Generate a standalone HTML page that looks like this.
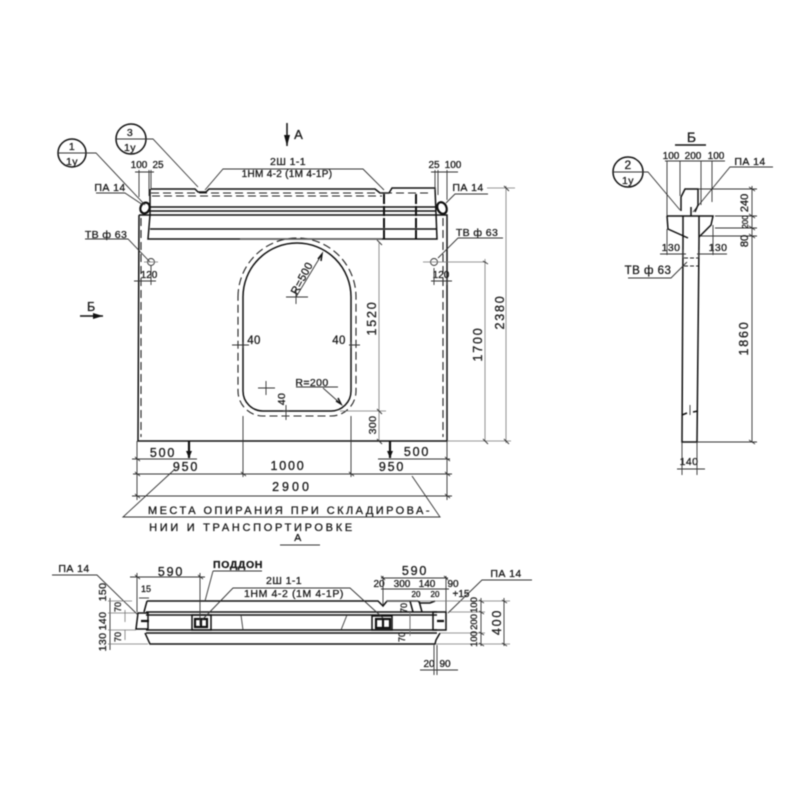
<!DOCTYPE html>
<html><head><meta charset="utf-8"><style>
html,body{margin:0;padding:0;background:#fff;width:800px;height:800px;overflow:hidden}
svg{display:block;filter:blur(.4px)}
text{font-family:"Liberation Sans",sans-serif;font-size:11.5px;fill:#1a1a1a;stroke:#1a1a1a;stroke-width:.3;letter-spacing:1px;text-anchor:middle}
.s{font-size:10.5px;letter-spacing:.4px}
.t{font-size:9px;letter-spacing:0}
.m{font-size:12.5px;letter-spacing:1.8px}
.k{fill:none;stroke:#111;stroke-width:1.5}
.h{fill:none;stroke:#111;stroke-width:2.2}
.n{fill:none;stroke:#333;stroke-width:.9}
.l{fill:none;stroke:#777;stroke-width:.8}
.d{fill:none;stroke:#222;stroke-width:1.1;stroke-dasharray:8 4}
.v{fill:none;stroke:#111;stroke-width:2;stroke-dasharray:10 2}
</style></head><body>
<svg width="800" height="800" viewBox="0 0 800 800" xmlns="http://www.w3.org/2000/svg">
<!-- main elevation -->
<path class="k" d="M139 215H150M139 215L138 441H447L447 215H437"/>
<path class="d" d="M141 218V437M443 218V437"/>
<path class="k" d="M151 189H195L198 192H206L209 189H375L380 193H389L392 188H435L437 239H148L150 215V189"/>
<path class="k" d="M150 207H435M150 211H436M150 215H437M150 229H436"/>
<path class="d" d="M151 193H382M152 196H382M384 193H432"/>
<path class="v" d="M384 194V239M416 194V239"/>
<ellipse cx="145" cy="208" rx="4.5" ry="5.5" class="h" transform="rotate(25 145 208)"/>
<ellipse cx="442" cy="208" rx="4.5" ry="6" class="h" transform="rotate(-25 442 208)"/>
<circle cx="151" cy="262" r="3.5" class="n"/><circle cx="434" cy="262" r="3.5" class="n"/>
<!-- opening -->
<path class="k" d="M243 297A54 54 0 0 1 351 297V391A20 20 0 0 1 331 411H263A20 20 0 0 1 243 391Z"/>
<path class="d" d="M238 297A59 59 0 0 1 356 297V391A25 25 0 0 1 331 416H263A25 25 0 0 1 238 391Z"/>
<path class="n" d="M286 297H308M296 290V304M258 388H275M266 381V395"/>
<path class="n" d="M296 297L322 254M296 387H338M323 388L341 404"/>
<path class="k" d="M318 259L322 254L321 261M336 401L341 404L338 398"/>
<path class="n" d="M232 345H249M349 345H360M286 405V420M238 342V348M243 342V348M351 342V348M356 342V348M283 411H289M283 416H289"/>
<text class="s" transform="translate(305 280) rotate(-62)" style="font-size:11px">R=500</text>
<text x="312" y="386" class="s">R=200</text>
<text x="254" y="344" class="s" style="font-size:11.5px">40</text><text x="339" y="344" class="s" style="font-size:11.5px">40</text>
<text class="s" transform="translate(285 399) rotate(-90)">40</text>
<!-- section mark A -->
<path class="k" d="M287 123V146"/><path d="M284 135L287 146L290 135Z" fill="#111"/>
<text x="299" y="139" style="font-size:13px">А</text>
<!-- section mark B -->
<text x="92" y="311" class="m">Б</text>
<path class="k" d="M80 316H103"/><path d="M93 313L103 316L93 319Z" fill="#111"/>
<!-- callouts -->
<circle cx="72" cy="153" r="14" class="k"/><path class="n" d="M58 153H86H96L145 205"/>
<text x="72" y="150" class="s">1</text><text x="72" y="165" class="s">1у</text>
<circle cx="131" cy="139" r="15" class="k"/><path class="n" d="M116 139H146H153L198 187"/>
<text x="130" y="136" class="s">3</text><text x="130" y="151" class="s">1у</text>
<text x="110" y="191" class="s">ПА 14</text><path class="n" d="M96 193H125L143 205"/>
<text x="468" y="191" class="s">ПА 14</text><path class="n" d="M488 194H455L446 203"/>
<text x="106" y="238" class="s">ТВ ф 63</text><path class="n" d="M85 239H128L150 262"/>
<text x="477" y="236" class="s">ТВ ф 63</text><path class="n" d="M503 238H458L438 258"/>
<!-- top dims -->
<text x="139" y="168" class="t" style="font-size:10px">100</text><text x="158" y="168" class="t" style="font-size:10px">25</text>
<text x="434" y="168" class="t" style="font-size:10px">25</text><text x="453" y="168" class="t" style="font-size:10px">100</text>
<path class="n" d="M135 172H154M139 170V197M149 170V196M151 170V190M431 172H458M435 170V190M438 170V195M447 170V200"/>
<text x="288" y="165" class="s">2Ш 1-1</text>
<text x="287" y="177" class="t" style="font-size:10px;letter-spacing:.3px">1НМ 4-2 (1М 4-1Р)</text>
<path class="n" d="M205 190L223 169H363L384 190"/>
<!-- 120 -->
<text x="149" y="278" class="t" style="font-size:10px">120</text><text x="441" y="278" class="t" style="font-size:10px">120</text>
<path class="n" d="M134 281H156M151 266V285M141 278V285M431 281H452M434 268V285M447 278V285"/>
<path class="l" d="M423 262H486M144 262H158"/>
<!-- right dims -->
<path class="l" d="M379 243V441M485 259V441M506 186V443M487 188H515M447 441H511M340 411H386M240 239H382"/>
<path class="n" d="M483 261L488 264M377 240L382 245M504 186L509 191M483 439L488 444M504 439L509 444M377 409L382 414M377 439L382 444"/>
<text class="m" transform="translate(376 318) rotate(-90)">1520</text>
<text class="m" transform="translate(482 344) rotate(-90)">1700</text>
<text class="m" transform="translate(504 312) rotate(-90)">2380</text>
<text class="s" transform="translate(376 425) rotate(-90)">300</text>
<!-- bottom dims -->
<path class="h" d="M189 441V458M390 441V458"/>
<path d="M186 451L189 458L192 451ZM387 451L390 458L393 451Z" fill="#111"/>
<path class="n" d="M132 459H197M137 441V500M378 459H450M133 474H452M243 416V477M351 416V477M447 441V500M132 496H452"/>
<path class="n" d="M135 472L140 476M135 494L140 498M135 457L140 461M241 472L246 476M349 472L354 476M445 472L450 476M445 494L450 498M445 457L450 461"/>
<text x="163" y="457" class="m">500</text><text x="186" y="471" class="m">950</text>
<text x="288" y="470" class="m">1000</text><text x="392" y="471" class="m">950</text>
<text x="417" y="456" class="m">500</text><text x="292" y="491" class="m" style="letter-spacing:3px">2900</text>
<text x="290" y="514" style="font-size:11px;letter-spacing:2.45px">МЕСТА  ОПИРАНИЯ  ПРИ  СКЛАДИРОВА-</text>
<path class="n" d="M174 470L123 517H440L412 476"/>
<text x="252" y="531" style="font-size:11px;letter-spacing:2.7px">НИИ   И   ТРАНСПОРТИРОВКЕ</text>
<text x="298" y="541" class="s">А</text><path class="n" d="M280 545H320"/>
<!-- side view B -->
<text x="692" y="142" style="font-size:14px">Б</text><path class="k" d="M675 145H706"/>
<circle cx="628" cy="172" r="15" class="k"/><path class="n" d="M613 172H643H648L680 210"/>
<text x="628" y="169" class="s" style="font-size:12px">2</text><text x="628" y="184" class="s">1у</text>
<text x="671" y="159" class="t" style="font-size:10px">100</text><text x="693" y="159" class="t" style="font-size:10px">200</text><text x="716" y="159" class="t" style="font-size:10px">100</text>
<path class="n" d="M665 161H725M667 161V216M680 161V196M701 161V205M712 161V202"/>
<text x="750" y="165" class="s">ПА 14</text><path class="n" d="M773 167H730L693 212"/>
<path class="k" d="M681 211V197L685 189H698V205L695 212M667 216H713L711 225L699 237M667 216L668 229L688 238"/>
<path class="k" d="M683 216V241L682 442H697L699 241V216M691 207V216"/>
<path class="n" d="M698 189H757M715 216H757M715 228H757M700 236H757M752 186V442M697 442H757"/>
<path class="n" d="M749 187L755 191M749 214L755 218M749 226L755 230M749 234L755 238M749 440L755 444"/>
<text class="t" transform="translate(748 203) rotate(-90)" style="font-size:11px">240</text>
<text class="t" transform="translate(748 222) rotate(-90)" style="font-size:8px">200</text>
<text class="t" transform="translate(748 241) rotate(-90)" style="font-size:11px">80</text>
<text class="m" transform="translate(748 338) rotate(-90)">1860</text>
<text x="671" y="251" class="s">130</text><text x="718" y="251" class="s">130</text>
<path class="n" d="M660 254H686M697 254H727M667 229V255M713 225V255M683 250V258M699 250V258"/>
<path class="d" style="stroke-dasharray:4 2" d="M684 258H698M684 266H698"/>
<text x="648" y="274" style="font-size:11.5px;letter-spacing:.5px">ТВ ф 63</text><path class="n" d="M628 278H671L687 262"/>
<path class="k" d="M682 415L687 413M693 412L698 411"/><path class="n" d="M690 405V415"/>
<text x="689" y="465" class="s">140</text>
<path class="n" d="M677 469H705M682 442V475M697 442V475"/>
<!-- plan A -->
<path class="k" d="M147 601H378L383 606L387 601H418L420 603H430L435 601M147 601L144 612M145 633L150 644H435L436 640L440 633"/>
<path class="k" d="M138 613L136 629H148V613ZM146 612H437M146 615H437M146 630H437M146 633H437"/>
<path class="k" d="M433 612H446V630H433Z"/>
<path class="k" d="M410 601L413 612M419 601L422 612"/>
<path class="h" d="M141 621H149M437 621H444"/>
<path class="k" d="M192 615H211V630H192ZM372 616H392V630H372Z"/>
<path class="h" d="M195 619H207V627H195ZM376 619H390V628H376ZM201 619V627M383 619V628"/>
<path class="n" d="M241 615L243 630M347 615L341 630M410 615V630"/>
<text x="74" y="572" class="s">ПА 14</text><path class="n" d="M52 575H97L138 615"/>
<text x="506" y="577" class="s">ПА 14</text><path class="n" d="M532 580H482L448 613"/>
<text x="238" y="568" class="s" style="font-weight:bold;letter-spacing:.6px">ПОДДОН</text><path class="n" d="M213 571H262M213 571L205 601"/>
<text x="171" y="576" class="m">590</text>
<path class="n" d="M130 577H205M137 573V612M200 573V625M135 575L140 579M198 575L203 579"/>
<text x="146" y="592" class="t">15</text><path class="n" d="M139 598L149 598"/>
<text x="284" y="584" class="s">2Ш 1-1</text>
<text x="294" y="597" class="s" style="letter-spacing:.6px">1НМ 4-2 (1М 4-1Р)</text>
<path class="n" d="M202 620L233 588H350L383 618"/>
<text x="415" y="575" class="m">590</text>
<text x="379" y="587" class="t" style="font-size:10px">20</text><text x="402" y="587" class="t" style="font-size:10px">300</text><text x="427" y="587" class="t" style="font-size:10px">140</text><text x="453" y="587" class="t" style="font-size:10px">90</text>
<path class="n" d="M381 578H448M381 589H449M383 576V605M446 576V612M381 576L385 580M444 576L448 580"/>
<text x="416" y="597" class="t" style="font-size:8px">20</text><text x="435" y="597" class="t" style="font-size:8px">20</text><text x="461" y="597" class="t" style="font-size:10px">+15</text>
<text class="t" transform="translate(407 608) rotate(-90)">70</text><text class="t" transform="translate(405 637) rotate(-90)">70</text>
<path class="l" d="M386 601H510M450 612H485M440 633H485M436 644H510M410 612V636"/>
<path class="n" d="M481 598V646M504 598V646M479 600L484 603M479 611L484 614M479 632L484 635M479 643L484 646M502 600L507 603M502 643L507 646"/>
<text class="t" transform="translate(477 605) rotate(-90)" style="font-size:9.5px">100</text>
<text class="t" transform="translate(477 622) rotate(-90)" style="font-size:9.5px">200</text>
<text class="t" transform="translate(477 639) rotate(-90)" style="font-size:9.5px">100</text>
<text class="m" transform="translate(501 622) rotate(-90)">400</text>
<text x="429" y="667" class="t" style="font-size:10px">20</text><text x="445" y="667" class="t" style="font-size:10px">90</text>
<path class="n" d="M420 670H458M434 645V675M437 645V675"/>
<text class="s" transform="translate(106 592) rotate(-90)">150</text>
<text class="s" transform="translate(106 621) rotate(-90)">140</text>
<text class="s" transform="translate(106 642) rotate(-90)">130</text>
<text class="t" transform="translate(121 607) rotate(-90)">70</text>
<text class="t" transform="translate(121 637) rotate(-90)">70</text>
<path class="n" d="M110 598V650"/>
<path class="l" d="M108 601H132M108 613H135M108 630H136M108 644H148M125 610V622M125 630V640"/>
</svg>
</body></html>
